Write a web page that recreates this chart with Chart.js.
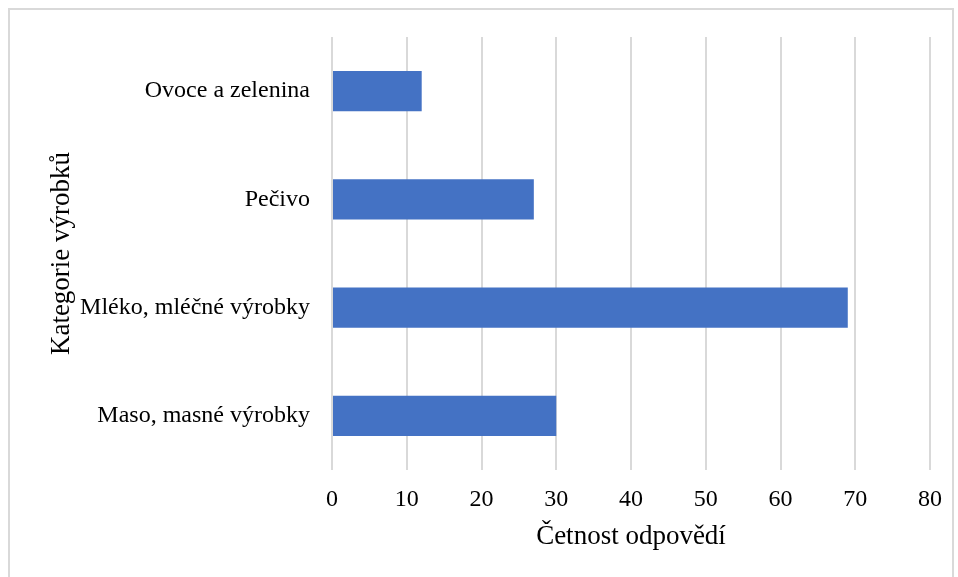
<!DOCTYPE html>
<html>
<head>
<meta charset="utf-8">
<script src="https://cdn.jsdelivr.net/npm/chart.js@4.4.1/dist/chart.umd.min.js"></script>
<style>
  html, body { margin: 0; padding: 0; background: #fff; overflow: hidden; }
  .frame { position: absolute; left: 8px; top: 8px; width: 946px; height: 600px; border: 2px solid #d9d9d9; box-sizing: border-box; }
  .wrap { position: absolute; left: 0; top: 0; width: 958px; height: 577px; }
</style>
</head>
<body>
<div class="frame"></div>
<div class="wrap"><canvas id="chart" width="958" height="577"></canvas></div>
<script>
// categories top to bottom, as in the picture
const categories = ["Ovoce a zelenina", "Pečivo", "Mléko, mléčné výrobky", "Maso, masné výrobky"];
const counts = [12, 27, 69, 30];
const xTicks = [0, 10, 20, 30, 40, 50, 60, 70, 80];

const serif = "'Liberation Serif', 'Times New Roman', serif";

const ctx = document.getElementById("chart").getContext("2d");
new Chart(ctx, {
    type: "bar",
    data: {
        labels: categories,
        datasets: [{
            data: counts,
            backgroundColor: "#4472C4",
            categoryPercentage: 1,
            barPercentage: 0.37
        }]
    },
    options: {
        indexAxis: "y",
        responsive: false,
        animation: false,
        layout: { padding: { top: 37, right: 28, bottom: 0, left: 0 } },
        plugins: { legend: { display: false }, tooltip: { enabled: false } },
        scales: {
            x: {
                min: 0,
                max: 80,
                afterBuildTicks: (scale) => { scale.ticks = xTicks.map(v => ({ value: v })); },
                afterFit: (scale) => { scale.height = 107; },
                grid: { color: "#d9d9d9", lineWidth: 2, drawTicks: false },
                border: { display: false },
                ticks: { color: "#000", padding: 15, font: { family: serif, size: 24 } },
                title: {
                    display: true,
                    text: "Četnost odpovědí",
                    color: "#000",
                    font: { family: serif, size: 27 },
                    padding: { top: 0, bottom: 24 }
                }
            },
            y: {
                afterFit: (scale) => { scale.width = 332; },
                grid: { display: false, drawTicks: false },
                border: { display: false },
                ticks: { color: "#000", padding: 22, font: { family: serif, size: 24 } },
                title: {
                    display: true,
                    text: "Kategorie výrobků",
                    color: "#000",
                    font: { family: serif, size: 27 },
                    padding: { top: 46, bottom: 0 }
                }
            }
        }
    }
});
</script>
</body>
</html>
